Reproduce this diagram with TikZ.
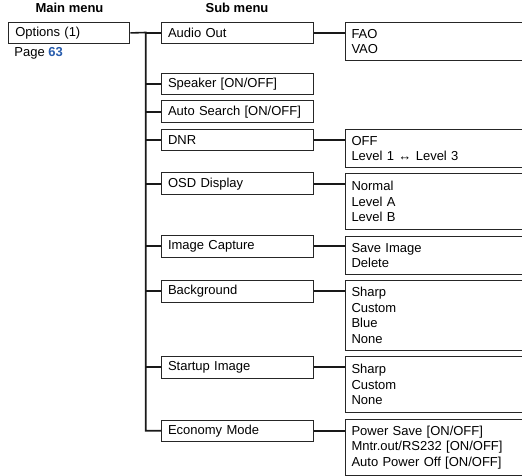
\documentclass[tikz,border=0pt]{standalone}
\usepackage{fontspec}
\setmainfont{Liberation Sans}
\usetikzlibrary{positioning,calc}
\definecolor{pageblue}{RGB}{40,92,172}

\begin{document}
\begin{tikzpicture}[
    x=1bp, y=-1bp,
    txt/.style={font=\fontsize{13bp}{15.7bp}\selectfont},
    menubox/.style={txt, rectangle, draw=black!85, line width=1bp, inner xsep=6.5bp, inner ysep=0pt, minimum height=21.5bp, text width=108bp, align=left, anchor=north west},
    subbox/.style={menubox, text width=139bp},
    optbox/.style={menubox, text width=200bp},
    head/.style={font=\fontsize{13bp}{15.7bp}\selectfont\bfseries, inner sep=0pt, anchor=base},
    conn/.style={line width=1.6bp, draw=black!90}
]
    \useasboundingbox (0,0) rectangle (522,476);
    \clip (0,0) rectangle (522,476);

    % column heads
    \node [head] (mainhead) at (69.5,13) {Main menu};
    \node [head] (subhead) at (237,13) {Sub menu};

    % main menu
    \node [menubox] (options) at (8.3,21.7) {Options (1)};
    \node [txt, inner sep=0pt, anchor=base west] (page) at (14.3,56.7) {Page \textbf{\color{pageblue}63}};

    % sub menu
    \node [subbox] (audio) at (161,22) {Audio Out};
    \node [subbox] (speaker) at (161,73) {Speaker [ON/OFF]};
    \node [subbox] (search) at (161,100.5) {Auto Search [ON/OFF]};
    \node [subbox] (dnr) at (161,129) {DNR};
    \node [subbox] (osd) at (161,172.5) {OSD Display};
    \node [subbox] (capture) at (161,235) {Image Capture};
    \node [subbox] (backgr) at (161,280) {Background};
    \node [subbox] (startup) at (161,356) {Startup Image};
    \node [subbox] (economy) at (161,419.5) {Economy Mode};

    % settings
    \node [optbox, minimum height=38bp] (audioopt) at (344.5,22) {FAO\\VAO};
    \node [optbox, minimum height=38bp] (dnropt) at (344.5,129) {OFF\\Level 1 ↔ Level 3};
    \node [optbox, minimum height=56bp] (osdopt) at (344.5,173) {Normal\\Level A\\Level B};
    \node [optbox, minimum height=38bp] (captureopt) at (344.5,236) {Save Image\\Delete};
    \node [optbox, minimum height=70bp] (backgropt) at (344.5,280) {Sharp\\Custom\\Blue\\None};
    \node [optbox, minimum height=56bp] (startupopt) at (344.5,356) {Sharp\\Custom\\None};
    \node [optbox, minimum height=56bp] (economyopt) at (344.5,419) {Power Save [ON/OFF]\\Mntr.out/RS232 [ON/OFF]\\Auto Power Off [ON/OFF]};

    % tree lines
    \coordinate (trunk) at (145.7,32.5);
    \draw [conn] (options.east) -- (trunk) |- (economy.west);
    \draw [conn] (trunk |- audio.west) -- (audio.west);
    \draw [conn] (trunk |- speaker.west) -- (speaker.west);
    \draw [conn] (trunk |- search.west) -- (search.west);
    \draw [conn] (trunk |- dnr.west) -- (dnr.west);
    \draw [conn] (trunk |- osd.west) -- (osd.west);
    \draw [conn] (trunk |- capture.west) -- (capture.west);
    \draw [conn] (trunk |- backgr.west) -- (backgr.west);
    \draw [conn] (trunk |- startup.west) -- (startup.west);

    \draw [conn] (audio.east) -- (audio.east -| audioopt.west);
    \draw [conn] (dnr.east) -- (dnr.east -| dnropt.west);
    \draw [conn] (osd.east) -- (osd.east -| osdopt.west);
    \draw [conn] (capture.east) -- (capture.east -| captureopt.west);
    \draw [conn] (backgr.east) -- (backgr.east -| backgropt.west);
    \draw [conn] (startup.east) -- (startup.east -| startupopt.west);
    \draw [conn] (economy.east) -- (economy.east -| economyopt.west);
\end{tikzpicture}
\end{document}
